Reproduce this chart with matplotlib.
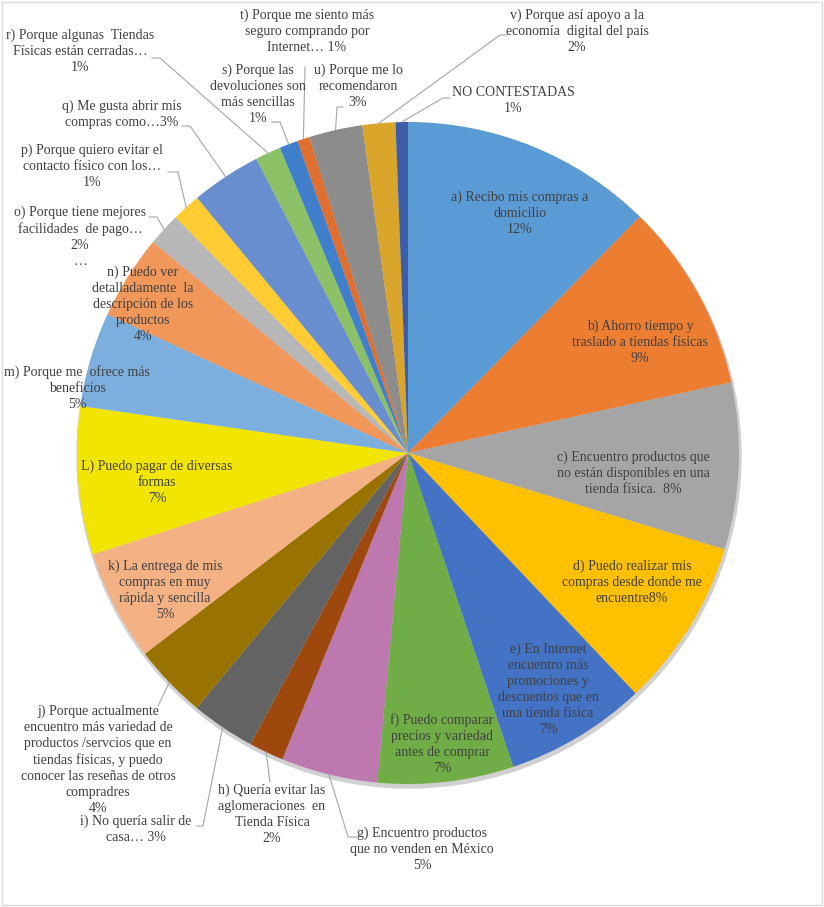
import numpy as np
import matplotlib
matplotlib.use("Agg")
import matplotlib.pyplot as plt
from matplotlib.patches import Rectangle, Circle

# share of answers per reason (percent)
keys = ["a", "b", "c", "d", "e", "f", "g", "h", "i", "j", "k", "L",
        "m", "n", "o", "p", "q", "r", "s", "t", "u", "v", "NC"]
values = [12.3, 9.2, 8.1, 8.2, 6.9, 6.6, 4.7, 1.7, 3.1, 3.6, 5.4, 7.2,
          4.6, 4.1, 1.6, 1.4, 3.4, 1.25, 0.9, 0.6, 2.6, 1.6, 0.6]
labels = [
    "a) Recibo mis compras a\ndomicilio\n12%",
    "b) Ahorro tiempo y\ntraslado a tiendas físicas\n9%",
    "c) Encuentro productos que\nno están disponibles en una\ntienda física.  8%",
    "d) Puedo realizar mis\ncompras desde donde me\nencuentre8%",
    "e) En Internet\nencuentro más\npromociones y\ndescuentos que en\nuna tienda física\n7%",
    "f) Puedo comparar\nprecios y variedad\nantes de comprar\n7%",
    "g) Encuentro productos\nque no venden en México\n5%",
    "h) Quería evitar las\naglomeraciones  en\nTienda Física\n2%",
    "i) No quería salir de\ncasa… 3%",
    "j) Porque actualmente\nencuentro más variedad de\nproductos /servcios que en\ntiendas físicas, y puedo\nconocer las reseñas de otros\ncompradres\n4%",
    "k) La entrega de mis\ncompras en muy\nrápida y sencilla\n5%",
    "L) Puedo pagar de diversas\nformas\n7%",
    "m) Porque me  ofrece más\nbeneficios\n5%",
    "n) Puedo ver\ndetalladamente  la\ndescripción de los\nproductos\n4%",
    "o) Porque tiene mejores\nfacilidades  de pago…\n2%\n…",
    "p) Porque quiero evitar el\ncontacto físico con los…\n1%",
    "q) Me gusta abrir mis\ncompras como…3%",
    "r) Porque algunas  Tiendas\nFísicas están cerradas…\n1%",
    "s) Porque las\ndevoluciones son\nmás sencillas\n1%",
    "t) Porque me siento más\nseguro comprando por\nInternet… 1%",
    "u) Porque me lo\nrecomendaron\n3%",
    "v) Porque así apoyo a la\neconomía  digital del país\n2%",
    "NO CONTESTADAS\n1%",
]
colors = ["#5B9BD5", "#ED7D31", "#A5A5A5", "#FFC000", "#4472C4", "#70AD47",
          "#BE78B0", "#9E480E", "#636363", "#997300", "#F4B183", "#F2E600",
          "#7CAFDD", "#F1975A", "#B7B7B7", "#FFCD33", "#698ED0", "#8CC168",
          "#3F7FCB", "#E06E2E", "#8C8C8C", "#D9A52B", "#3D5DA8"]

# layout (pixel coords, y down): label centre, and for outside labels the bend + end of leader
W, H = 824, 907
cx, cy, R = 408, 453, 331
label_pos = {
    "a": (520, 213), "b": (640, 342), "c": (633, 473), "d": (632, 582),
    "e": (548, 689), "f": (442, 744), "g": (422, 849), "h": (272, 814),
    "i": (136, 829), "j": (98, 760), "k": (165, 590), "L": (157, 482),
    "m": (77, 388), "n": (143, 304), "o": (80, 237), "p": (92, 166),
    "q": (122, 114), "r": (80, 51), "s": (258, 94), "t": (307, 31),
    "u": (358, 86), "v": (577, 31), "NC": (513, 101),
}
leaders = {
    "g": [(348, 837), (357, 837)], "h": [(270, 782)],
    "i": [(203, 826), (197, 826)], "j": [(158, 706)],
    "o": [(157, 217), (149, 217)], "p": [(178, 172), (168, 172)],
    "q": [(190, 126), (182, 126)], "r": [(160, 58), (152, 58)],
    "s": [(280, 122), (272, 122)], "t": [(305, 67)],
    "u": [(337, 107), (343, 107)], "v": [(500, 35), (507, 35)],
    "NC": [(443, 98), (450, 98)],
}

plt.rcParams['font.family'] = ['Liberation Serif', 'DejaVu Serif']

fig = plt.figure(figsize=(W / 100, H / 100), dpi=100)
ax = fig.add_axes([0, 0, 1, 1])

# chart border
ax.add_patch(Rectangle((2, 2), W - 4, H - 4, fill=False, ec="#D9D9D9", lw=1))

# soft shadow under the pie
ax.add_patch(Circle((cx + 1, H - cy - 3), R + 1, color="#D0D0D0", zorder=0))

wedges, _ = ax.pie(values, colors=colors, startangle=90, counterclock=False,
                   center=(cx, H - cy), radius=R, frame=True,
                   wedgeprops=dict(linewidth=0))
ax.set_xlim(0, W)
ax.set_ylim(0, H)
ax.set_aspect('equal')
ax.axis('off')

for k, w, lab in zip(keys, wedges, labels):
    x, y = label_pos[k]
    ax.text(x, H - y, lab, ha='center', va='center', fontsize=10,
            color="#404040", linespacing=1.3, zorder=5)
    if k in leaders:
        mid = np.deg2rad((w.theta1 + w.theta2) / 2)
        px = cx + R * np.cos(mid)
        py = (H - cy) + R * np.sin(mid)
        xs = [px] + [p[0] for p in leaders[k]]
        ys = [py] + [H - p[1] for p in leaders[k]]
        ax.plot(xs, ys, color="#A6A6A6", lw=0.8, zorder=4)

fig.savefig("out.png", dpi=100)
